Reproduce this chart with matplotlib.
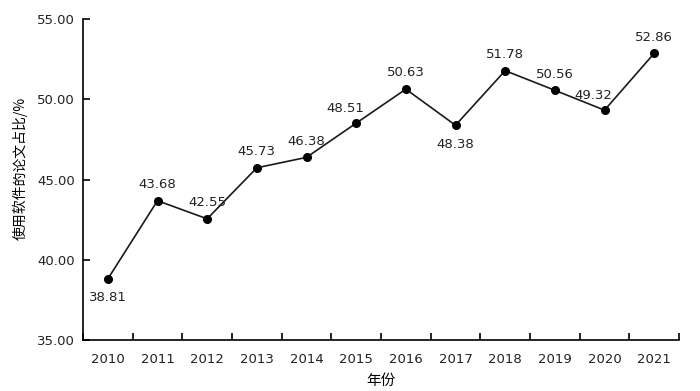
import matplotlib
matplotlib.use("Agg")
import matplotlib.pyplot as plt
import numpy as np

plt.rcParams['font.family'] = ['DejaVu Sans', 'Noto Sans CJK SC']

years = ['2010', '2011', '2012', '2013', '2014', '2015', '2016', '2017', '2018', '2019', '2020', '2021']
values = [38.81, 43.68, 42.55, 45.73, 46.38, 48.51, 50.63, 48.38, 51.78, 50.56, 49.32, 52.86]
label_pos = ['below', 'above', 'above', 'above', 'above', 'aboveleft', 'above', 'below', 'above', 'above', 'aboveleft', 'above']
yticks = [35, 40, 45, 50, 55]

fig = plt.figure(figsize=(7, 3.91), dpi=100)
ax = fig.add_axes([0.1186, 0.1304, 0.8514, 0.8210])

x = np.arange(len(years))
ax.plot(x, values, color='#1a1a1a', lw=1.2, marker='o', ms=5.5, mfc='black', mec='black')

fs = 9.5
for xi, v, p in zip(x, values, label_pos):
    if p == 'below':
        ax.annotate(f'{v:.2f}', (xi, v), xytext=(0, -9), textcoords='offset points',
                    ha='center', va='top', fontsize=fs, color='#222222')
    elif p == 'aboveleft':
        ax.annotate(f'{v:.2f}', (xi, v), xytext=(-8, 6), textcoords='offset points',
                    ha='center', va='bottom', fontsize=fs, color='#222222')
    else:
        ax.annotate(f'{v:.2f}', (xi, v), xytext=(0, 7), textcoords='offset points',
                    ha='center', va='bottom', fontsize=fs, color='#222222')

ax.set_xlim(-0.5, len(years) - 0.5)
ax.set_ylim(35, 55)
ax.set_yticks(yticks)
ax.set_yticklabels([f'{t:.2f}' for t in yticks], fontsize=fs, color='#222222')
ax.set_xticks(x)
ax.set_xticklabels(years, fontsize=fs, color='#222222')
ax.tick_params(axis='x', which='major', length=0, pad=9)
ax.set_xticks(np.arange(len(years) + 1) - 0.5, minor=True)
ax.tick_params(axis='x', which='minor', direction='in', length=5, width=1.2)
ax.tick_params(axis='y', direction='in', length=5, width=1.2, pad=6)

for s in ['top', 'right']:
    ax.spines[s].set_visible(False)
for s in ['left', 'bottom']:
    ax.spines[s].set_linewidth(1.2)

ax.set_xlabel('年份', fontsize=10.5, labelpad=6, family=['Noto Sans CJK SC', 'DejaVu Sans'])
ax.set_ylabel('使用软件的论文占比/%', fontsize=10, family=['Noto Sans CJK SC', 'DejaVu Sans'])
ax.yaxis.set_label_coords(-0.092, 0.536)

fig.savefig('out.png', dpi=100)
